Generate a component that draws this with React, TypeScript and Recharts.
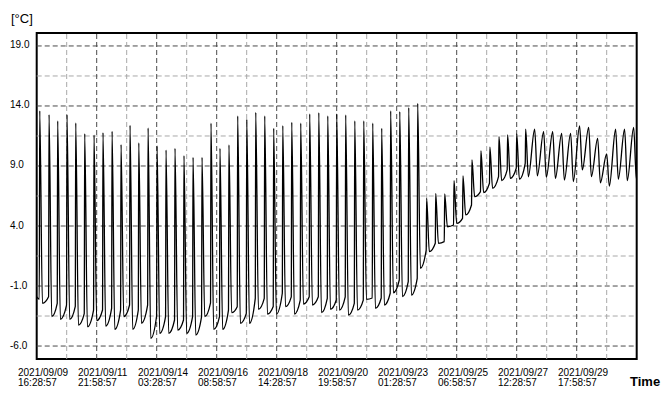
import { LineChart, Line, XAxis, YAxis, ReferenceLine, ReferenceArea } from 'recharts'

// Temperature log, 2021/09/09 16:28:57 onwards. x = hours since start.
// Defrost spikes roughly every 8h; values read off the logger print-out.

const FONT = '"Liberation Sans", Arial, sans-serif'

const startHour = 0
const endHour = 535
const startTemp = -1.9
const endTemp = 7.9

const spikeHours = [
  2.7, 11.0, 18.7, 27.0, 34.8, 42.8, 51.1, 59.1, 67.2, 75.2,
  83.2, 91.0, 99.3, 107.3, 115.3, 123.3, 131.3, 139.4, 147.4, 155.4,
  163.4, 171.4, 179.2, 187.3, 195.3, 203.3, 211.3, 219.4, 227.4, 235.4,
  243.4, 251.5, 259.5, 267.5, 275.5, 283.6, 291.6, 299.6, 307.6, 315.6,
  323.7, 331.7, 339.7, 347.7, 355.8, 363.8, 372.1, 380.1, 388.1, 396.1,
  404.1, 412.2, 419.9, 428.0, 436.0, 444.0, 452.0, 460.1, 468.1, 476.1,
  484.1, 492.2, 500.2, 508.2, 516.2, 524.2, 532.3,
]

// level just before each spike (null = no separate step, gradual rise)
const preTemps: (number | null)[] = [
  -2.1, -1.9, -2.45, -2.6, -2.7, -3.3, -3.0, -3.0, -2.86, -3.0,
  -2.58, -3.0, -2.6, -3.5, -3.55, -3.83, -3.83, -3.55, -3.55, -2.4,
  -3.55, -3.0, -2.72, -3.28, -2.03, -2.03, -2.7, -1.6, -1.9, -2.17,
  -1.9, -1.9, -2.03, -2.17, -1.9, -2.44, -2.17, -2.0, -2.0, -1.6,
  -0.5, -0.64, -0.36, 2.0, 2.56, 2.7, 4.08, 4.64, 5.75, 6.86,
  7.56, 8.11, 8.67, 8.81, 9.22, null, null, null, null, null,
  null, null, null, null, null, null, null,
]

const peakTemps = [
  13.6, 13.28, 12.75, 13.28, 12.58, 11.69, 11.58, 11.78, 11.89, 10.78,
  12.39, 10.92, 12.17, 10.67, 10.33, 10.47, 9.86, 9.72, 9.72, 12.56,
  10.47, 10.75, 13.17, 12.89, 13.47, 13.17, 12.14, 12.36, 12.64, 12.56,
  13.33, 13.44, 13.17, 13.33, 13.25, 12.75, 12.75, 12.56, 12.14, 13.58,
  13.53, 13.86, 14.22, 6.31, 6.72, 6.67, 7.78, 8.17, 9.5, 10.25,
  10.56, 11.44, 11.58, 11.67, 12.06, 12.06, 11.86, 11.86, 11.72, 11.72,
  12.33, 12.22, 11.3, 10.0, 12.06, 12.06, 12.22,
]

const troughTemps = [
  -2.44, -3.55, -3.78, -3.78, -4.25, -4.39, -3.89, -4.33, -4.61, -3.55,
  -4.61, -4.1, -5.36, -4.94, -4.94, -4.67, -4.94, -5.08, -3.55, -4.61,
  -4.61, -3.22, -4.11, -4.11, -2.94, -3.33, -3.33, -2.72, -3.33, -2.5,
  -2.58, -3.22, -2.94, -3.0, -3.42, -3.0, -2.11, -2.86, -2.58, -1.56,
  -1.89, -1.75, 0.47, 1.86, 2.56, 3.94, 4.22, 4.92, 6.44, 6.78,
  7.14, 7.78, 7.97, 7.9, 8.1, 8.17, 8.06, 7.97, 7.83, 7.7,
  8.67, 8.11, 7.6, 7.33, 7.9, 7.78, 7.9,
]

const xTickHours = [
  0, 26.75, 53.5, 80.25, 107, 133.75, 160.5, 187.25, 214, 240.75, 267.5,
  294.25, 321, 347.75, 374.5, 401.25, 428, 454.75, 481.5, 508.25, 535,
]
const dateLabels = ['2021/09/09', '2021/09/11', '2021/09/14', '2021/09/16', '2021/09/18', '2021/09/20', '2021/09/23', '2021/09/25', '2021/09/27', '2021/09/29']
const timeLabels = ['16:28:57', '21:58:57', '03:28:57', '08:58:57', '14:28:57', '19:58:57', '01:28:57', '06:58:57', '12:28:57', '17:58:57']

const yTicks = [-6, -3.5, -1, 1.5, 4, 6.5, 9, 11.5, 14, 16.5, 19]
const yLabelled = [-6, -1, 4, 9, 14, 19]
const yMin = -7.08
const yMax = 20.08

function buildSeries() {
  const rows: { h: number; t: number }[] = [{ h: startHour, t: startTemp }]
  spikeHours.forEach((h, i) => {
    const pre = preTemps[i]
    if (pre != null) rows.push({ h: h - 0.4, t: pre })
    rows.push({ h, t: peakTemps[i] })
    rows.push({ h: h + 2.4, t: troughTemps[i] })
  })
  rows.push({ h: endHour, t: endTemp })
  return rows
}

const series = buildSeries()

const MAJOR = '#4a4a4a'
const MINOR = '#a8a8a8'

function XTick(props: any) {
  const { x, y, index } = props
  if (index % 2 !== 0 || index / 2 >= dateLabels.length) return <g />
  const k = index / 2
  return (
    <g fontFamily={FONT} fontSize={10} fill="#000">
      <text x={x - 18.7} y={y + 9} textAnchor="start">{dateLabels[k]}</text>
      <text x={x - 18.7} y={y + 19} textAnchor="start">{timeLabels[k]}</text>
    </g>
  )
}

function YTick(props: any) {
  const { y, payload } = props
  if (!yLabelled.includes(payload.value)) return <g />
  return (
    <text x={2} y={y + 2.5} textAnchor="start" fontFamily={FONT} fontSize={10} fill="#000">
      {payload.value.toFixed(1)}
    </text>
  )
}

export default function App() {
  return (
    <div style={{ position: 'relative', width: 654, height: 388, fontFamily: FONT }}>
      <LineChart width={654} height={388} data={series} margin={{ top: 25, right: 25.3, bottom: 0, left: 0 }}>
        <XAxis
          dataKey="h" type="number" domain={[startHour, endHour]} ticks={xTickHours}
          axisLine={false} tickLine={false} height={37} interval={0} tick={<XTick />}
        />
        <YAxis
          type="number" domain={[yMin, yMax]} ticks={yTicks} allowDataOverflow
          axisLine={false} tickLine={false} width={28.7} interval={0} tick={<YTick />}
        />
        {yTicks.map((v) => (
          <ReferenceLine key={'y' + v} y={v} stroke={yLabelled.includes(v) ? MAJOR : MINOR} strokeDasharray="5 3" strokeWidth={1} />
        ))}
        {xTickHours.slice(1, -1).map((v, i) => (
          <ReferenceLine key={'x' + v} x={v} stroke={i % 2 === 1 ? MAJOR : MINOR} strokeDasharray="5 3" strokeWidth={1} />
        ))}
        <Line dataKey="t" type="monotoneX" stroke="#000" strokeWidth={1.3} dot={false} isAnimationActive={false} />
        <ReferenceArea x1={startHour} x2={endHour} y1={yMin} y2={yMax} fill="none" stroke="#000" strokeWidth={2} ifOverflow="visible" />
      </LineChart>
      <div style={{ position: 'absolute', left: 3, top: 4, fontSize: 13, lineHeight: '13px', color: '#000' }}>[°C]</div>
      <div style={{ position: 'absolute', left: 622, top: 367, fontSize: 13, lineHeight: '13px', fontWeight: 'bold', color: '#000' }}>Time</div>
    </div>
  )
}
